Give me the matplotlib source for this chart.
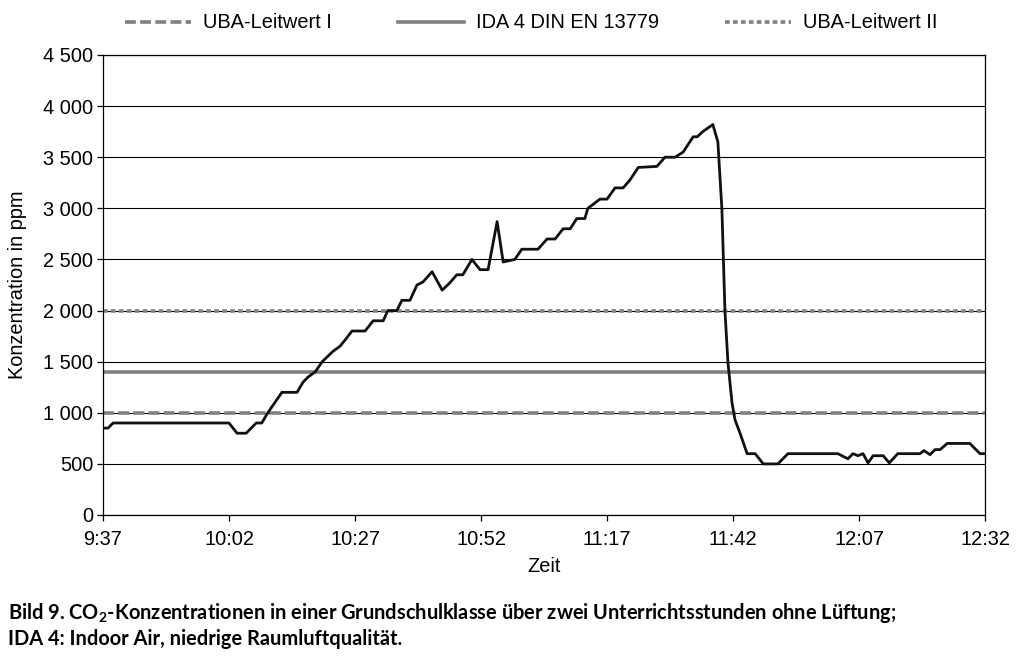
import matplotlib
matplotlib.use("Agg")
import matplotlib.pyplot as plt
from matplotlib.lines import Line2D
from matplotlib.ticker import FuncFormatter

# minutes after 9:37
minutes = [0, 1, 2, 25, 26.6, 28.4, 30.4, 31.5, 32.7, 34.1, 35.5, 38.5, 39.7, 40.7,
           42.1, 43.5, 45.6, 47.0, 48.0, 49.4, 52.0, 53.6, 55.6, 56.5, 58.3, 59.3,
           60.9, 62.3, 63.5, 65.3, 67.3, 68.8, 70.2, 71.4, 73.2, 74.8, 76.4, 78.2,
           79.4, 81.7, 83.1, 86.3, 88.1, 89.7, 91.3, 92.7, 94.0, 95.6, 96.2, 98.6,
           100.0, 101.6, 103.2, 104.6, 106.2, 109.9, 111.5, 113.5, 115.1, 117.1,
           117.9, 119.0, 121.0, 122.0, 122.8, 123.4, 124.0, 124.8, 125.4, 126.4,
           127.8, 129.4, 131.0, 133.9, 135.9, 145.8, 147.8, 148.8, 149.8, 150.8,
           151.8, 152.8, 154.8, 156.0, 157.7, 162.1, 162.9, 164.1, 165.1, 166.1,
           167.5, 172.0, 174.0, 175.0]
co2_ppm = [850, 850, 900, 900, 800, 800, 900, 900, 1000, 1100, 1200, 1200, 1300, 1350,
           1400, 1500, 1600, 1650, 1710, 1800, 1800, 1900, 1900, 2000, 2000, 2100,
           2100, 2250, 2280, 2380, 2200, 2270, 2350, 2350, 2500, 2400, 2400, 2870,
           2475, 2500, 2600, 2600, 2700, 2700, 2800, 2800, 2900, 2900, 3000, 3090,
           3090, 3200, 3200, 3280, 3400, 3410, 3500, 3500, 3550, 3700,
           3700, 3750, 3820, 3650, 2990, 2000, 1490, 1100, 930, 800,
           600, 600, 500, 500, 600, 600, 550, 600, 580, 600,
           510, 580, 580, 510, 600, 600, 630, 590, 640, 640,
           700, 700, 600, 600]

uba_1 = 1000
ida_4 = 1400
uba_2 = 2000
legend_labels = ["UBA-Leitwert I", "IDA 4 DIN EN 13779", "UBA-Leitwert II"]
tick_labels = ["9:37", "10:02", "10:27", "10:52", "11:17", "11:42", "12:07", "12:32"]
tick_minutes = [0, 25, 50, 75, 100, 125, 150, 175]

plt.rcParams['font.family'] = ['Liberation Sans', 'DejaVu Sans']
plt.rcParams['mathtext.fontset'] = 'custom'
plt.rcParams['mathtext.rm'] = 'Lato:bold'
plt.rcParams['mathtext.default'] = 'rm'

FS = 14.4
fig = plt.figure(figsize=(10.30, 6.72), dpi=100)
ax = fig.add_axes([103/1030, 1-515/672, (985-103)/1030, (515-55)/672])

grey = "#808080"
ax.axhline(uba_1, color=grey, lw=2.6, dashes=(3.0, 1.2), zorder=2)
ax.axhline(ida_4, color=grey, lw=2.6, zorder=2)
ax.axhline(uba_2, color=grey, lw=2.6, dashes=(1.3, 0.9), zorder=2)
ax.plot(minutes, co2_ppm, color="#111111", lw=2.0, zorder=3, solid_joinstyle='round')

ax.set_xlim(0, 175)
ax.set_ylim(0, 4500)
ax.set_yticks(range(0, 4501, 500))
ax.yaxis.set_major_formatter(FuncFormatter(lambda v, p: f"{int(v):,}".replace(",", " ")))
ax.set_xticks(tick_minutes)
ax.set_xticklabels(tick_labels)
ax.grid(axis='y', color='black', lw=0.8, zorder=1)
ax.set_axisbelow(True)
for s in ax.spines.values():
    s.set_color('black')
    s.set_linewidth(0.9)
ax.tick_params(axis='both', labelsize=FS, direction='out', length=4, width=0.9,
               colors='black', pad=3)
ax.tick_params(axis='x', pad=7)
ax.set_ylabel("Konzentration in ppm", fontsize=FS)
ax.yaxis.set_label_coords((27 - 103) / 882, 0.5)
ax.set_xlabel("Zeit", fontsize=FS, va='center')
ax.xaxis.set_label_coords(0.5, (515 - 567) / 460)

handles = [Line2D([], [], color=grey, lw=2.6, dashes=(3.0, 1.2)),
           Line2D([], [], color=grey, lw=2.6),
           Line2D([], [], color=grey, lw=2.6, dashes=(1.3, 0.9))]
fig.legend(handles, legend_labels, loc='center', bbox_to_anchor=(0.516, 1 - 23/672),
           ncol=3, frameon=False, fontsize=FS, handlelength=3.3, columnspacing=3.3,
           handletextpad=0.6)

fig.text(8/1030, 1-613/672, "Bild 9. CO$_2$-Konzentrationen in einer Grundschulklasse über zwei Unterrichtsstunden ohne Lüftung;",
         fontsize=FS, fontweight='bold', family=['Lato', 'DejaVu Sans'], va='center', ha='left')
fig.text(8/1030, 1-639/672, "IDA 4: Indoor Air, niedrige Raumluftqualität.",
         fontsize=FS, fontweight='bold', family=['Lato', 'DejaVu Sans'], va='center', ha='left')

fig.savefig("out.png", dpi=100)
